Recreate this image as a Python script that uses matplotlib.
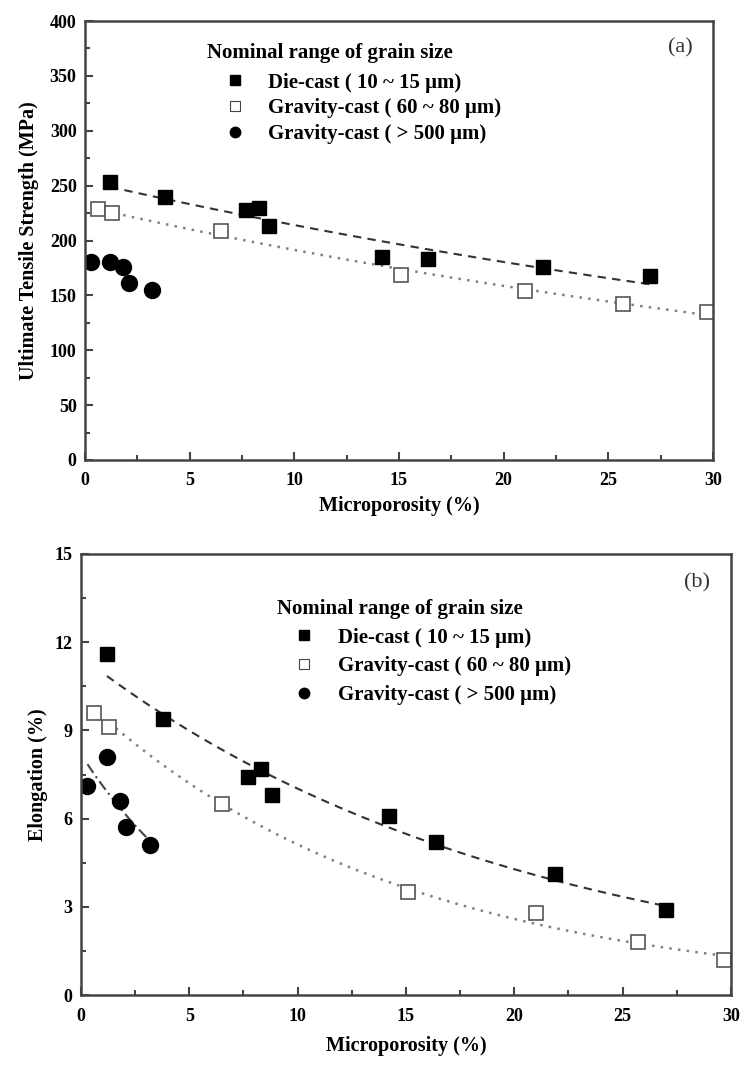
import numpy as np
import matplotlib.pyplot as plt
from matplotlib.lines import Line2D
from matplotlib.ticker import MultipleLocator

plt.rcParams['font.family'] = ['Liberation Serif', 'DejaVu Serif']
plt.rcParams['font.weight'] = 'bold'
plt.rcParams['mathtext.default'] = 'regular'

# microporosity (%) of each sample group
x_die = [1.2, 3.8, 7.7, 8.3, 8.8, 14.2, 16.4, 21.9, 27.0]
x_grav = [0.6, 1.3, 6.5, 15.1, 21.0, 25.7, 29.7]
x_coarse = [0.3, 1.2, 1.8, 2.1, 3.2]

# ultimate tensile strength (MPa)
uts_die = [253, 240, 228, 230, 213, 185, 183, 176, 168]
uts_grav = [229, 225, 209, 169, 154, 142, 135]
uts_coarse = [180, 180, 176, 161, 155]

# elongation (%)
el_die = [11.6, 9.4, 7.4, 7.7, 6.8, 6.1, 5.2, 4.1, 2.9]
el_grav = [9.6, 9.1, 6.5, 3.5, 2.8, 1.8, 1.2]
el_coarse = [7.1, 8.1, 6.6, 5.7, 5.1]

labels = [u"Die-cast ( 10 ~ 15 \u03bcm)",
          u"Gravity-cast ( 60 ~ 80 \u03bcm)",
          u"Gravity-cast ( > 500 \u03bcm)"]

spine_col = "#444444"


def exp_fit(x, y, x0=None):
  # exponential trend line y = a*exp(b*x) through the points
  x = np.array(x, dtype=float)
  y = np.array(y, dtype=float)
  b, lna = np.polyfit(x, np.log(y), 1)
  if x0 is None:
    x0 = x.min()
  xs = np.linspace(x0, x.max(), 100)
  return xs, np.exp(lna) * np.exp(b * xs)


def style_axes(ax, ymax, ymajor, yminor, ylabel, ylpad, xlpad, tag, tagpos):
  ax.set_xlim(0, 30)
  ax.set_ylim(0, ymax)
  ax.xaxis.set_major_locator(MultipleLocator(5))
  ax.xaxis.set_minor_locator(MultipleLocator(2.5))
  ax.yaxis.set_major_locator(MultipleLocator(ymajor))
  ax.yaxis.set_minor_locator(MultipleLocator(yminor))
  ax.tick_params(which="both", direction="in", color=spine_col, width=1.5,
                 labelsize=13)
  ax.tick_params(axis="x", pad=9)
  ax.tick_params(axis="y", pad=6)
  ax.tick_params(which="major", length=6)
  ax.tick_params(which="minor", length=3.5)
  for lab in ax.get_xticklabels() + ax.get_yticklabels():
    lab.set_fontweight("bold")
  for s in ax.spines.values():
    s.set_linewidth(1.8)
    s.set_color(spine_col)
  ax.set_xlabel("Microporosity (%)", fontsize=14.5, fontweight="bold", labelpad=xlpad)
  ax.set_ylabel(ylabel, fontsize=14.5, fontweight="bold", labelpad=ylpad)
  ax.text(tagpos[0], tagpos[1], tag, transform=ax.transAxes, fontsize=16,
          fontweight="normal", color="#333333", ha="center", va="center")

  handles = [Line2D([], [], ls="none", marker="s", ms=6.5, mfc="black", mec="black"),
             Line2D([], [], ls="none", marker="s", ms=6.5, mfc="white", mec="#444444", mew=0.8),
             Line2D([], [], ls="none", marker="o", ms=7.5, mfc="black", mec="black")]
  return handles


def add_legend(ax, h, anchor, spacing, sep):
  leg = ax.legend(h, labels, title="Nominal range of grain size",
                  loc="upper left", bbox_to_anchor=anchor, frameon=False,
                  fontsize=15, title_fontproperties={"weight": "bold", "size": 15},
                  handletextpad=0.3, labelspacing=spacing, handlelength=2.6,
                  borderaxespad=0, borderpad=0)
  leg._legend_box.align = "left"
  leg._legend_box.sep = sep
  return leg


fig = plt.figure(figsize=(7.43, 10.79), dpi=100)
ax1 = fig.add_axes([0.1144, 0.5737, 0.8452, 0.4068])
ax2 = fig.add_axes([0.109, 0.0778, 0.8748, 0.4088])

# (a) tensile strength
xs, ys = exp_fit(x_die, uts_die)
ax1.plot(xs, ys, ls=(0, (4, 3)), color="#333333", lw=1.5)
xs, ys = exp_fit(x_grav, uts_grav)
ax1.plot(xs, ys, ls=(0, (1, 2.5)), color="#808080", lw=1.8)
ax1.plot(x_die, uts_die, "s", ms=10, mfc="black", mec="black")
ax1.plot(x_grav, uts_grav, "s", ms=10, mfc="white", mec="#555555", mew=1.2)
ax1.plot(x_coarse, uts_coarse, "o", ms=11.5, mfc="black", mec="black")
h = style_axes(ax1, 400, 50, 25, "Ultimate Tensile Strength (MPa)", 8, 5,
               "(a)", (0.948, 0.94))
add_legend(ax1, h, (0.195, 0.95), 0.27, 7)

# (b) elongation
xs, ys = exp_fit(x_die, el_die)
ax2.plot(xs, ys, ls=(0, (4, 3)), color="#333333", lw=1.5)
xs, ys = exp_fit(x_grav, el_grav, x0=1.3)
ax2.plot(xs, ys, ls=(0, (1, 2.5)), color="#808080", lw=1.8)
xs, ys = exp_fit(x_coarse, el_coarse)
ax2.plot(xs, ys, ls=(0, (5, 2, 1, 2)), color="#444444", lw=1.5)
ax2.plot(x_die, el_die, "s", ms=10, mfc="black", mec="black")
ax2.plot(x_grav, el_grav, "s", ms=10, mfc="white", mec="#555555", mew=1.2)
ax2.plot(x_coarse, el_coarse, "o", ms=11.5, mfc="black", mec="black")
h = style_axes(ax2, 15, 3, 1.5, "Elongation (%)", 5, 8, "(b)", (0.948, 0.935))
add_legend(ax2, h, (0.302, 0.897), 0.42, 6)

fig.savefig("out.png", dpi=100)
